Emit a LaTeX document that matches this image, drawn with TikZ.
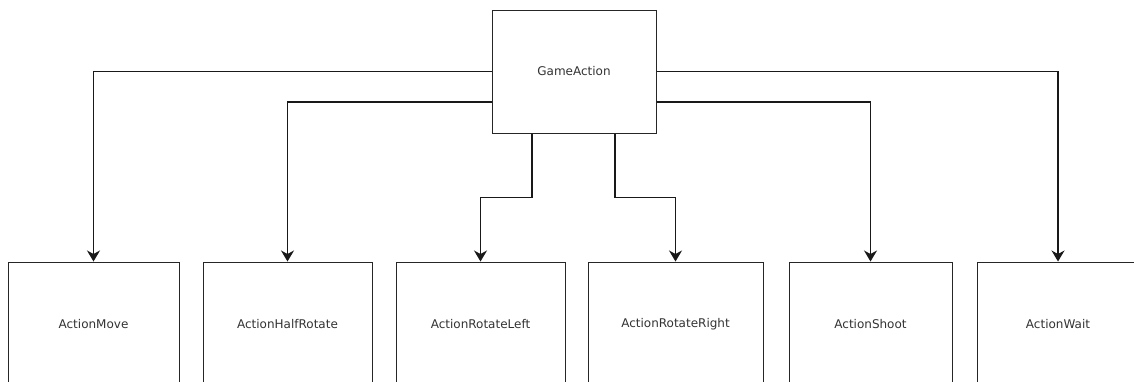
\documentclass[tikz,border=0pt]{standalone}
\usepackage{fontspec}
\setmainfont{DejaVu Sans}
\usetikzlibrary{arrows.meta}
\begin{document}
\begin{tikzpicture}[x=1pt,y=-1pt,
  box/.style={draw=black!85, line width=1pt, inner sep=0pt, minimum height=123pt,
    font=\fontsize{12}{14}\selectfont, text=black!80},
  link/.style={draw=black!90, line width=1.2pt,
    -{Stealth[length=11pt,width=13pt,inset=3.5pt]}}]
\useasboundingbox (0,0) rectangle (1134,381);
\fill[white] (0,0) rectangle (1134,381);

% parent class
\node[box, minimum width=164pt] (ga) at (574,71.5) {GameAction};

% subclasses
\begin{scope}
\clip (0,0) rectangle (1134,381);
\node[box, minimum width=171pt, minimum height=124pt] (mv) at (93.5,324) {ActionMove};
\node[box, minimum width=169pt, minimum height=124pt] (hr) at (287.5,324) {ActionHalfRotate};
\node[box, minimum width=169pt, minimum height=124pt] (rl) at (480.5,324) {ActionRotateLeft};
\node[box, minimum width=175pt, minimum height=124pt] (rr) at (675.5,324) {ActionRotateRight};
\node[box, minimum width=163pt, minimum height=124pt] (sh) at (870.5,324) {ActionShoot};
\node[box, minimum width=162pt, minimum height=124pt] (wt) at (1058,324) {ActionWait};
\end{scope}

% inheritance connectors
\draw[link] (ga.west) -| (mv.north);
\draw[link] ([yshift=-30.5pt]ga.west) -| (hr.north);
\draw[link] (ga.east) -| (wt.north);
\draw[link] ([yshift=-30.5pt]ga.east) -| (sh.north);
\draw[link] ([xshift=-42pt]ga.south) -- ++(0,64) -| (rl.north);
\draw[link] ([xshift=41pt]ga.south) -- ++(0,64) -| (rr.north);
\end{tikzpicture}
\end{document}
